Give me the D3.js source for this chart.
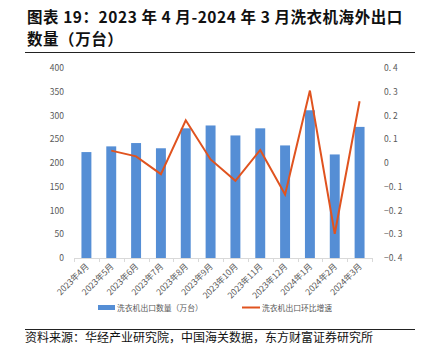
<!DOCTYPE html>
<html>
<head>
<meta charset="utf-8">
<script src="https://cdn.jsdelivr.net/npm/d3@7"></script>
<style>
  body { margin: 0; background: #fff; }
  svg { display: block; font-family: "Noto Sans CJK SC", "Noto Sans", sans-serif; }
</style>
</head>
<body>
<div id="chart"></div>
<script>
const months = ["2023年4月", "2023年5月", "2023年6月", "2023年7月", "2023年8月", "2023年9月",
  "2023年10月", "2023年11月", "2023年12月", "2024年1月", "2024年2月", "2024年3月"]
const exportQty = [223, 235, 242, 231, 273, 279, 258, 273, 237, 311, 218, 276]
const momGrowth = [null, 0.052, 0.028, -0.047, 0.18, 0.015, -0.075, 0.055, -0.133, 0.305, -0.298, 0.26]
const leftTicks = [0, 50, 100, 150, 200, 250, 300, 350, 400]
const rightTicks = [-0.4, -0.3, -0.2, -0.1, 0, 0.1, 0.2, 0.3, 0.4]

const width = 433
const height = 364
const margin = { top: 68, bottom: 106, left: 74, right: 61 }
const barColor = "#558ed5"
const lineColor = "#e0531f"

let svg = d3.select("#chart").append("svg")
    .attr("width", width)
    .attr("height", height)

// title
svg.append("text")
    .attr("x", 27).attr("y", 23)
    .style("font-size", "15.5px").style("font-weight", "bold").style("letter-spacing", "0.55px").attr("fill", "#111")
    .text("图表 19：2023 年 4 月-2024 年 3 月洗衣机海外出口")
svg.append("text")
    .attr("x", 27).attr("y", 45)
    .style("font-size", "15.5px").style("font-weight", "bold").style("letter-spacing", "0.55px").attr("fill", "#111")
    .text("数量（万台）")
svg.append("line")
    .attr("x1", 25).attr("x2", 415).attr("y1", 52.5).attr("y2", 52.5)
    .attr("stroke", "#222").attr("stroke-width", 1)

let x = d3.scaleBand()
    .domain(months)
    .range([margin.left, width - margin.right])
    .paddingInner(0.6)
    .paddingOuter(0.3)

let yLeft = d3.scaleLinear()
    .domain([0, 400])
    .range([height - margin.bottom, margin.top])

let yRight = d3.scaleLinear()
    .domain([-0.4, 0.4])
    .range([height - margin.bottom, margin.top])

// bars
svg.append("g").selectAll("rect")
    .data(exportQty)
    .enter()
    .append("rect")
    .attr("x", (d, i) => x(months[i]))
    .attr("width", x.bandwidth())
    .attr("y", d => yLeft(d))
    .attr("height", d => yLeft(0) - yLeft(d))
    .attr("fill", barColor)

// x axis baseline with category ticks
let x0 = margin.left, x1 = width - margin.right
let base = svg.append("g").attr("stroke", "#d9d9d9")
base.append("line")
    .attr("x1", x0).attr("x2", x1)
    .attr("y1", yLeft(0) + 0.5).attr("y2", yLeft(0) + 0.5)
d3.range(months.length + 1).forEach(i => {
    let xx = Math.round(x0 + i * x.step()) + 0.5
    base.append("line")
        .attr("x1", xx).attr("x2", xx)
        .attr("y1", yLeft(0)).attr("y2", yLeft(0) + 4)
})

// left axis labels
svg.append("g").selectAll("text")
    .data(leftTicks)
    .enter()
    .append("text")
    .attr("x", 64)
    .attr("y", d => yLeft(d) + 3)
    .attr("text-anchor", "end")
    .style("font-size", "8.5px")
    .attr("fill", "#595959")
    .text(d => d)

// right axis labels
svg.append("g").selectAll("text")
    .data(rightTicks)
    .enter()
    .append("text")
    .attr("x", 384)
    .attr("y", d => yRight(d) + 3)
    .style("font-size", "8.5px")
    .attr("fill", "#595959")
    .text(d => d3.format(".1f")(d).replace("-", "−").replace(".", ". ").replace("0. 0", "0"))

// x labels
svg.append("g").selectAll("text")
    .data(months)
    .enter()
    .append("text")
    .attr("transform", d => `translate(${x(d) + x.bandwidth() / 2 + 3},${yLeft(0) + 9}) rotate(-45)`)
    .attr("text-anchor", "end")
    .style("font-size", "8.5px")
    .attr("fill", "#595959")
    .text(d => d)

// growth line
let line = d3.line()
    .defined(d => d != null)
    .x((d, i) => x(months[i]) + x.bandwidth() / 2)
    .y(d => yRight(d))

svg.append("path")
    .datum(momGrowth)
    .attr("d", line)
    .attr("fill", "none")
    .attr("stroke", lineColor)
    .attr("stroke-width", 2)

// legend
let legend = svg.append("g").style("font-size", "7.8px").attr("fill", "#595959")
legend.append("rect")
    .attr("x", 98).attr("y", 305).attr("width", 17).attr("height", 5)
    .attr("fill", barColor)
legend.append("text").attr("x", 117).attr("y", 310.5).text("洗衣机出口数量（万台）")
legend.append("line")
    .attr("x1", 242).attr("x2", 260).attr("y1", 307.5).attr("y2", 307.5)
    .attr("stroke", lineColor).attr("stroke-width", 2)
legend.append("text").attr("x", 262).attr("y", 310.5).text("洗衣机出口环比增速")

// footer
svg.append("line")
    .attr("x1", 25).attr("x2", 415).attr("y1", 329.5).attr("y2", 329.5)
    .attr("stroke", "#222").attr("stroke-width", 1)
svg.append("text")
    .attr("x", 25).attr("y", 342)
    .style("font-size", "12px").attr("fill", "#111")
    .text("资料来源：华经产业研究院，中国海关数据，东方财富证券研究所")
</script>
</body>
</html>
